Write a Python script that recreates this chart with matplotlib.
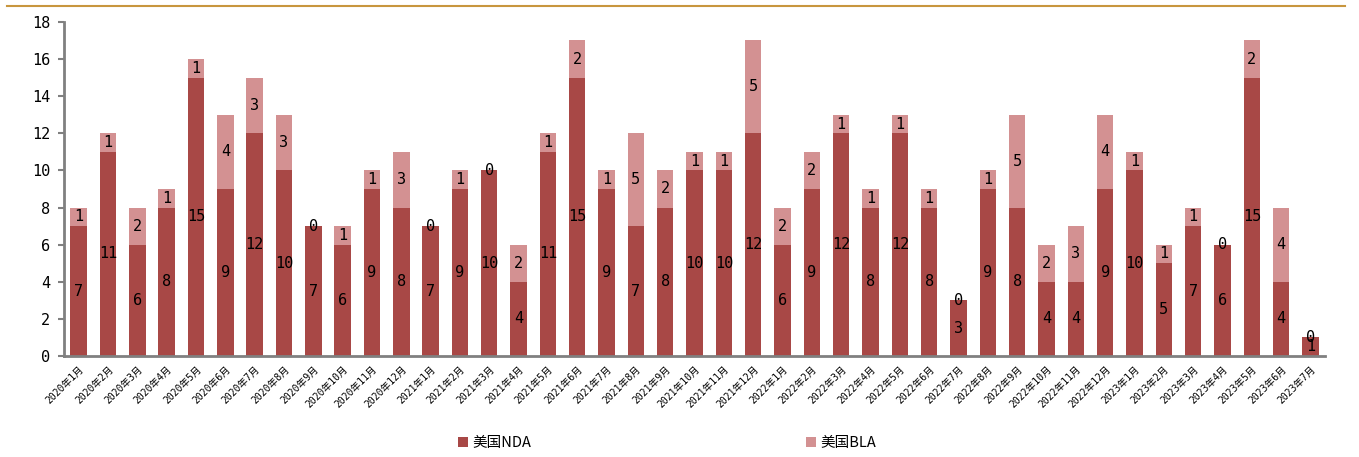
import matplotlib
matplotlib.use("Agg")
import matplotlib.pyplot as plt
from matplotlib.lines import Line2D
import numpy as np

plt.rcParams['font.family'] = ['DejaVu Sans Mono', 'Noto Sans CJK SC']

months = [f"{y}年{m}月" for y in (2020, 2021, 2022) for m in range(1, 13)] + \
         [f"2023年{m}月" for m in range(1, 8)]

nda = [7, 11, 6, 8, 15, 9, 12, 10, 7, 6, 9, 8,
       7, 9, 10, 4, 11, 15, 9, 7, 8, 10, 10, 12,
       6, 9, 12, 8, 12, 8, 3, 9, 8, 4, 4, 9,
       10, 5, 7, 6, 15, 4, 1]
bla = [1, 1, 2, 1, 1, 4, 3, 3, 0, 1, 1, 3,
       0, 1, 0, 2, 1, 2, 1, 5, 2, 1, 1, 5,
       2, 2, 1, 1, 1, 1, 0, 1, 5, 2, 3, 4,
       1, 1, 1, 0, 2, 4, 0]

NDA_COLOR = '#A84846'
BLA_COLOR = '#D39192'

fig = plt.figure(figsize=(13.59, 4.57), dpi=100)
ax = fig.add_axes([0.0471, 0.221, 0.928, 0.731])

x = np.arange(len(months))
w = 0.56
b1 = ax.bar(x, nda, w, color=NDA_COLOR, label='美国NDA')
b2 = ax.bar(x, bla, w, bottom=nda, color=BLA_COLOR, label='美国BLA')

# value labels centred in each segment
for xi, n, b in zip(x, nda, bla):
    ax.text(xi, n / 2, str(n), ha='center', va='center', fontsize=11, color='black')
    ax.text(xi, n + b / 2, str(b), ha='center', va='center', fontsize=11, color='black')

ax.set_xlim(-0.5, len(months) - 0.5)
ax.set_ylim(0, 18)
ax.set_yticks(range(0, 19, 2))
ax.tick_params(axis='y', labelsize=11, length=4, width=1.5, color='#808080', pad=6)
ax.set_xticks(x)
ax.set_xticklabels(months, rotation=45, ha='right', rotation_mode='anchor', fontsize=7)
ax.tick_params(axis='x', length=0, pad=6)

for side in ('top', 'right'):
    ax.spines[side].set_visible(False)
for side in ('left', 'bottom'):
    ax.spines[side].set_color('#808080')
    ax.spines[side].set_linewidth(2)

fig.legend(handles=[b1, b2], labels=['美国NDA', '美国BLA'], loc='center',
           bbox_to_anchor=(0.491, 0.03), ncol=2, frameon=False, columnspacing=18.8,
           handlelength=0.7, handleheight=0.7, handletextpad=0.3,
           prop={'family': ['Noto Sans CJK SC'], 'size': 10.5})

# gold rule across the top
fig.add_artist(Line2D([0.005, 0.99], [0.987, 0.987], color='#C8963E', lw=1.5,
                      transform=fig.transFigure))

fig.savefig('out.png', dpi=100)
